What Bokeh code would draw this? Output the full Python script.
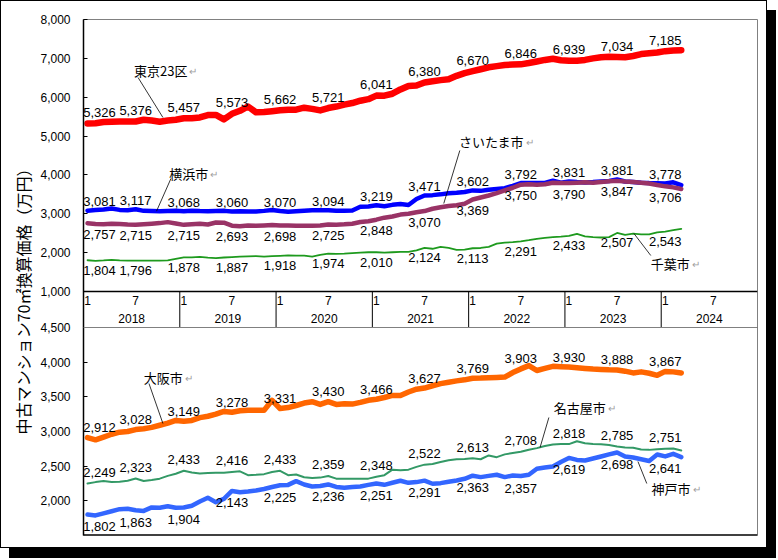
import math
from bokeh.plotting import figure
from bokeh.models import Range1d, FixedTicker, Span, ColumnDataSource, LinearAxis
from bokeh.embed import file_html
from bokeh.resources import INLINE
from bokeh.core.properties import value

# ---------------- data ----------------
years = ["2018", "2019", "2020", "2021", "2022", "2023", "2024"]
month_tick_labels = ["1", "7"]
top_ticks = [1000, 2000, 3000, 4000, 5000, 6000, 7000, 8000]
bot_ticks = [1500, 2000, 2500, 3000, 3500, 4000, 4500]
y_title = "中古マンション70㎡換算価格（万円）"

tokyo = [5326, 5330, 5360, 5370, 5375, 5372, 5376, 5420, 5400, 5370, 5400, 5420,
         5457, 5460, 5480, 5540, 5545, 5430, 5573, 5650, 5761, 5610, 5620, 5640,
         5662, 5680, 5680, 5730, 5700, 5660, 5721, 5760, 5810, 5850, 5910, 5950,
         6041, 6040, 6090, 6200, 6290, 6300, 6380, 6410, 6440, 6460, 6550, 6620,
         6670, 6720, 6770, 6800, 6830, 6840, 6846, 6880, 6920, 6960, 6990, 6950,
         6939, 6940, 6960, 7000, 7030, 7040, 7034, 7030, 7060, 7110, 7130, 7150,
         7185, 7200, 7210]
yokohama = [3081, 3095, 3110, 3135, 3100, 3090, 3117, 3075, 3070, 3068, 3070, 3075,
            3068, 3080, 3070, 3065, 3070, 3075, 3060, 3065, 3062, 3060, 3075, 3095,
            3070, 3050, 3065, 3080, 3090, 3088, 3094, 3080, 3078, 3085, 3180, 3190,
            3219, 3195, 3230, 3250, 3225, 3380, 3471, 3480, 3500, 3530, 3540, 3560,
            3602, 3590, 3620, 3640, 3660, 3720, 3792, 3790, 3790, 3795, 3850, 3800,
            3831, 3815, 3805, 3815, 3830, 3845, 3881, 3830, 3820, 3800, 3790, 3785,
            3778, 3810, 3740]
saitama = [2757, 2740, 2730, 2745, 2740, 2725, 2715, 2730, 2745, 2760, 2785, 2750,
           2715, 2730, 2745, 2725, 2775, 2770, 2693, 2680, 2700, 2690, 2700, 2710,
           2698, 2700, 2690, 2690, 2695, 2700, 2725, 2720, 2730, 2745, 2790, 2810,
           2848, 2900, 2930, 2980, 3000, 3040, 3070, 3130, 3170, 3200, 3220, 3260,
           3369, 3420, 3470, 3530, 3600, 3670, 3750, 3760, 3750, 3760, 3800, 3790,
           3790, 3800, 3810, 3800, 3820, 3840, 3847, 3830, 3820, 3800, 3780, 3740,
           3706, 3680, 3640]
chiba = [1804, 1790, 1800, 1815, 1800, 1795, 1796, 1795, 1795, 1795, 1800, 1840,
         1878, 1880, 1890, 1870, 1860, 1875, 1887, 1895, 1905, 1910, 1900, 1910,
         1918, 1930, 1925, 1925, 1900, 1940, 1974, 1970, 1975, 1990, 2000, 2010,
         2010, 2000, 2010, 2020, 2020, 2060, 2124, 2100, 2150, 2120, 2070, 2080,
         2113, 2120, 2150, 2230, 2260, 2270, 2291, 2320, 2355, 2380, 2398, 2410,
         2433, 2484, 2420, 2400, 2390, 2400, 2507, 2460, 2490, 2470, 2470, 2520,
         2543, 2580, 2613]
osaka = [2912, 2880, 2920, 2960, 2990, 3000, 3028, 3040, 3060, 3090, 3120, 3160,
         3149, 3160, 3200, 3220, 3250, 3290, 3278, 3300, 3305, 3305, 3305, 3450,
         3331, 3345, 3375, 3410, 3430, 3390, 3430, 3390, 3400, 3395, 3420, 3450,
         3466, 3490, 3520, 3520, 3570, 3610, 3627, 3660, 3690, 3710, 3730, 3745,
         3769, 3770, 3775, 3780, 3785, 3850, 3903, 3950, 3880, 3910, 3940, 3935,
         3930, 3920, 3910, 3900, 3895, 3890, 3888, 3870, 3845, 3860, 3840, 3810,
         3867, 3860, 3845]
nagoya = [2249, 2270, 2285, 2270, 2275, 2290, 2323, 2285, 2300, 2320, 2360, 2390,
          2433, 2410, 2395, 2400, 2405, 2405, 2416, 2425, 2370, 2375, 2385, 2415,
          2433, 2370, 2380, 2340, 2330, 2335, 2359, 2320, 2320, 2320, 2318, 2320,
          2348, 2370, 2450, 2440, 2450, 2490, 2522, 2530, 2560, 2585, 2600, 2605,
          2613, 2600, 2655, 2630, 2670, 2690, 2708, 2737, 2760, 2790, 2813, 2820,
          2818, 2860, 2830, 2820, 2815, 2805, 2785, 2770, 2765, 2740, 2735, 2745,
          2751, 2755, 2726]
kobe = [1802, 1790, 1820, 1850, 1880, 1885, 1863, 1855, 1905, 1900, 1923, 1900,
        1904, 1930, 1990, 2044, 1981, 2029, 2143, 2125, 2135, 2150, 2170, 2200,
        2225, 2230, 2284, 2236, 2207, 2215, 2236, 2200, 2188, 2200, 2207, 2230,
        2251, 2231, 2260, 2290, 2260, 2270, 2291, 2246, 2255, 2275, 2294, 2318,
        2363, 2342, 2360, 2376, 2342, 2366, 2357, 2376, 2462, 2480, 2496, 2560,
        2619, 2590, 2582, 2610, 2640, 2670, 2698, 2640, 2625, 2600, 2575, 2669,
        2641, 2678, 2630]

# ---------------- layout / style ----------------
W, H = 767, 548
FL, FR, FT, FB = 82, 756, 18, 534
Y_TOP_HI, Y_TOP_LO = 18, 290      # pixel rows of 8000 / 1000
Y_BOT_HI, Y_BOT_LO = 326, 534     # pixel rows of 4500 / 1500
N_SLOTS = 12 * len(years)

NUM_FONT = "Liberation Sans"
JP_FONT = "Noto Sans CJK JP"


def make_range(v_hi, y_hi, v_lo, y_lo):
    per_px = (v_hi - v_lo) / (y_lo - y_hi)
    return Range1d(v_lo - (FB - y_lo) * per_px, v_hi + (y_hi - FT) * per_px), per_px


top_range, top_pp = make_range(top_ticks[-1], Y_TOP_HI, top_ticks[0], Y_TOP_LO)
bot_range, bot_pp = make_range(bot_ticks[-1], Y_BOT_HI, bot_ticks[0], Y_BOT_LO)
band_range, band_pp = make_range(1.0, Y_TOP_LO, 0.0, Y_BOT_HI)


def top_from_px(py):
    return top_ticks[-1] - (py - Y_TOP_HI) * top_pp


def bot_to_top(v):
    py = Y_BOT_HI + (bot_ticks[-1] - v) / bot_pp
    return round(top_from_px(py), 4)


p = figure(width=W, height=H, output_backend="svg", toolbar_location=None,
           x_range=Range1d(-0.5, N_SLOTS - 0.5), y_range=top_range,
           x_axis_location=None, min_border_left=FL, min_border_right=W - FR,
           min_border_top=FT, min_border_bottom=H - FB)
p.extra_y_ranges = {"bot": bot_range, "band": band_range}
p.grid.visible = False
p.outline_line_color = "#808080"
p.outline_line_width = 1
p.background_fill_color = "white"
p.border_fill_color = "white"
p.styles = {"border": "1px solid #000000", "box-shadow": "9px 10px 0 0 #000000"}

# y axis: both panels' ticks on one axis line
ax = p.yaxis[0]
tick_pos = [float(t) for t in top_ticks] + [bot_to_top(v) for v in bot_ticks]
tick_lab = [f"{t:,}" for t in top_ticks] + [f"{v:,}" for v in bot_ticks]
ax.ticker = FixedTicker(ticks=tick_pos, minor_ticks=[])
ax.major_label_overrides = {k: v for k, v in zip(tick_pos, tick_lab)}
ax.axis_line_color = "#000000"
ax.axis_line_width = 1.5
ax.major_tick_in = 4
ax.major_tick_out = 0
ax.minor_tick_line_color = None
ax.major_label_standoff = 13
ax.major_label_text_font = NUM_FONT
ax.major_label_text_font_size = "12px"
ax.major_label_text_color = "#000000"

# vertical title: an outer axis without ticks (ideographic spaces shift it downwards)
tax = LinearAxis(ticker=FixedTicker(ticks=[], minor_ticks=[]),
                 axis_label=y_title + "\u3000\u3000\u3000")
tax.axis_line_color = None
tax.major_tick_line_color = None
tax.minor_tick_line_color = None
tax.major_label_text_font_size = "0px"
tax.axis_label_standoff = 3
tax.axis_label_text_font = JP_FONT
tax.axis_label_text_font_size = "16px"
tax.axis_label_text_font_style = "normal"
tax.axis_label_text_color = "#000000"
p.add_layout(tax, "left")

# panel lines
p.add_layout(Span(location=top_ticks[0], dimension="width", line_color="#000000", line_width=1.5))
p.add_layout(Span(location=0, dimension="width", y_range_name="band", line_color="#404040", line_width=1))
p.add_layout(Span(location=bot_ticks[-1], dimension="width", y_range_name="bot", line_color="#808080", line_width=1))
p.add_layout(Span(location=bot_ticks[0], dimension="width", y_range_name="bot", line_color="#000000", line_width=2.5))

# category band
seps = [12 * k - 0.5 for k in range(1, len(years))]
p.segment(x0=seps, y0=[0] * len(seps), x1=seps, y1=[1] * len(seps), y_range_name="band",
          line_color="#000000", line_width=1)
mx, mt = [], []
for k in range(len(years)):
    for j, lab in enumerate(month_tick_labels):
        mx.append(12 * k + 6 * j)
        mt.append(lab)
p.text(x=mx, y=[0.74] * len(mx), text=mt, y_range_name="band", text_align="center",
       text_baseline="middle", text_font=value(NUM_FONT), text_font_size="12px", text_color="#000000")
p.text(x=[12 * k + 5.5 for k in range(len(years))], y=[0.24] * len(years), text=years,
       y_range_name="band", text_align="center", text_baseline="middle",
       text_font=value(NUM_FONT), text_font_size="12px", text_color="#000000")

# series
xs = list(range(len(tokyo)))
series = [
    (tokyo, "#FF0000", 6.5, "default", -11),
    (yokohama, "#0000FF", 4.5, "default", -9),
    (saitama, "#993366", 4.5, "default", 11),
    (chiba, "#1E9A1E", 1.8, "default", 10),
    (osaka, "#FF6600", 5.5, "bot", -10),
    (nagoya, "#339966", 2.0, "bot", -11),
    (kobe, "#3366FF", 4.5, "bot", 12),
]
for vals, col, lw, rng, dy in series:
    p.line(xs, vals, line_color=col, line_width=lw, line_join="round", line_cap="round",
           y_range_name=rng)
for vals, col, lw, rng, dy in series:
    idx = list(range(0, len(vals), 6))
    src = ColumnDataSource(dict(x=idx, y=[vals[i] for i in idx],
                                text=[f"{vals[i]:,}" for i in idx],
                                xo=[12 if i == 0 else 0 for i in idx]))
    p.text(x="x", y="y", text="text", x_offset="xo", y_offset=dy, source=src,
           y_range_name=rng, text_align="center", text_baseline="middle",
           text_font=value(NUM_FONT), text_font_size="13px", text_color="#000000")

# callout labels with leader lines: (name, x, y, range, leader x0, y0, x1, y1)
callouts = [
    ("東京23区", 5.8, 6690, "default", 6.3, 6507, 9.4, 5478),
    ("横浜市", 10.2, 4037, "default", 10.4, 3908, 8.6, 3067),
    ("さいたま市", 46.3, 4860, "default", 46.4, 4629, 44.4, 3265),
    ("千葉市", 70.2, 1720, "default", 68.1, 2493, 70.2, 1926),
    ("大阪市", 7.0, 3779, "bot", 7.66, 3692, 9.4, 3115),
    ("名古屋市", 58.1, 3346, "bot", 57.5, 3202, 56.4, 2769),
    ("神戸市", 70.3, 2178, "bot", 68.6, 2567, 69.7, 2250),
]


def text_width(s, fs):
    return sum(fs * (0.55 if ord(c) < 128 else 1.0) for c in s)


for name, cx, cy, rng, lx0, ly0, lx1, ly1 in callouts:
    p.segment(x0=[lx0], y0=[ly0], x1=[lx1], y1=[ly1], y_range_name=rng,
              line_color="#000000", line_width=0.8)
    p.text(x=[cx], y=[cy], text=[name], y_range_name=rng, text_align="left",
           text_baseline="middle", text_font=value(JP_FONT), text_font_size="13px",
           text_color="#000000")
    p.text(x=[cx], y=[cy], text=["↵"], x_offset=text_width(name, 13) + 2, y_range_name=rng,
           text_align="left", text_baseline="middle", text_font=value(JP_FONT),
           text_font_size="10px", text_color="#A0A0A0")

open("out.html", "w").write(file_html(p, INLINE))
